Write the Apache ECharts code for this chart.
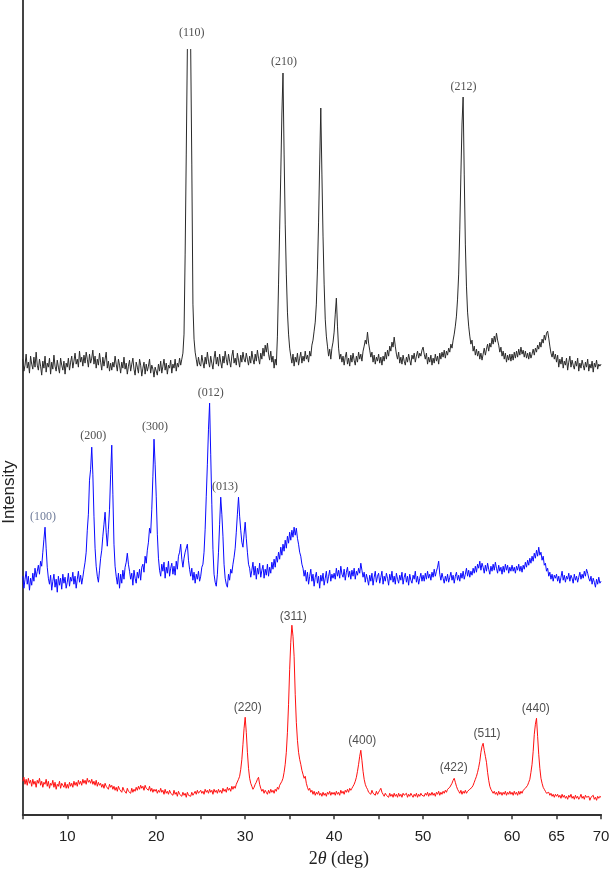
<!DOCTYPE html>
<html>
<head>
<meta charset="utf-8">
<script src="https://cdn.jsdelivr.net/npm/echarts/dist/echarts.min.js"></script>
<style>
  html, body { margin: 0; padding: 0; background: #fff; }
  #xrd { width: 612px; height: 875px; }
</style>
</head>
<body>
<div id="xrd"></div>
<script>
// scan: 2theta from 5 to 70 deg, one reading every 0.125 deg (one row = 5 deg)
var scanStart = 5;
var scanStep = 0.125;

// top pattern (black), stacked offset included; null = peak runs off the plot
var blackCounts = [
  455, 443, 449, 460, 446, 452, 441, 458, 450, 445, 457, 447, 462, 449, 444, 455, 448, 439, 453, 446, 458, 442, 451, 447, 456, 440, 452, 445, 459, 448, 443, 454, 447, 441, 456, 449, 444, 453, 440, 451,
  447, 456, 444, 452, 458, 446, 453, 461, 450, 455, 447, 463, 452, 457, 448, 459, 451, 462, 455, 447, 460, 451, 456, 464, 450, 458, 446, 455, 449, 461, 452, 444, 457, 448, 455, 462, 446, 453, 443, 451,
  444, 452, 447, 458, 450, 443, 455, 449, 441, 452, 446, 457, 445, 451, 440, 448, 454, 443, 450, 456, 445, 439, 452, 447, 441, 455, 449, 438, 446, 452, 440, 450, 443, 448, 455, 441, 449, 445, 437, 447,
  446, 439, 450, 443, 453, 441, 448, 455, 444, 451, 440, 449, 446, 454, 441, 450, 446, 455, 443, 451, 447, 456, 449, 455, 461, 480, 560, 660, 765, null, null, 765, 650, 510, 475, 462, 455, 448, 457, 450,
  448, 459, 452, 446, 457, 450, 462, 453, 447, 458, 451, 445, 456, 463, 450, 457, 448, 460, 452, 446, 458, 451, 463, 455, 449, 460, 453, 447, 458, 464, 451, 456, 449, 461, 454, 447, 459, 452, 462, 455,
  452, 461, 455, 449, 458, 451, 463, 455, 450, 460, 453, 464, 456, 450, 461, 455, 466, 458, 469, 462, 471, 460, 454, 463, 452, 458, 446, 455, 449, 478, 530, 585, 640, 700, 741, 660, 590, 540, 502, 480,
  466, 458, 451, 460, 448, 457, 452, 461, 449, 456, 462, 451, 458, 453, 463, 455, 459, 452, 463, 458, 469, 474, 483, 492, 510, 545, 592, 650, 706, 640, 578, 530, 495, 478, 468, 458, 465, 455, 466, 472,
  482, 500, 516, 488, 466, 455, 460, 452, 458, 449, 457, 462, 450, 456, 448, 459, 452, 461, 454, 449, 458, 452, 462, 455, 460, 453, 463, 468, 474, 470, 482, 471, 464, 457, 462, 452, 459, 450, 457, 453,
  460, 451, 457, 449, 458, 453, 462, 455, 464, 458, 468, 463, 472, 467, 477, 468, 460, 455, 462, 451, 457, 450, 459, 453, 449, 457, 452, 460, 454, 449, 459, 455, 461, 452, 458, 463, 456, 461, 458, 464,
  467, 460, 455, 461, 450, 457, 452, 459, 449, 456, 451, 460, 453, 458, 450, 461, 455, 462, 457, 464, 456, 463, 459, 466, 462, 470, 466, 474, 480, 488, 498, 515, 540, 585, 640, 690, 717, 640, 570, 528,
  502, 488, 478, 470, 474, 463, 468, 459, 465, 458, 463, 455, 461, 454, 460, 466, 459, 465, 470, 463, 471, 467, 476, 470, 478, 472, 481, 474, 469, 462, 467, 458, 463, 455, 461, 452, 459, 454, 460, 453,
  460, 454, 462, 456, 463, 457, 465, 459, 467, 460, 464, 457, 463, 456, 461, 455, 462, 456, 460, 465, 459, 466, 462, 469, 465, 472, 467, 475, 471, 479, 474, 481, 483, 476, 468, 461, 457, 463, 455, 460,
  452, 459, 447, 455, 450, 457, 446, 453, 449, 456, 444, 452, 458, 447, 454, 449, 445, 453, 448, 456, 443, 451, 446, 454, 449, 444, 452, 447, 455, 443, 450, 446, 453, 442, 451, 447, 454, 445, 450, 448,
  450
];

// middle pattern (blue)
var blueCounts = [
  238, 226, 235, 243, 230, 238, 224, 236, 229, 241, 233, 246, 237, 243, 249, 240, 253, 248, 262, 275, 287, 266, 247, 236, 230, 239, 224, 233, 240, 227, 235, 222, 238, 229, 236, 225, 240, 231, 237, 226,
  232, 241, 228, 237, 233, 242, 230, 238, 226, 235, 243, 232, 239, 230, 237, 245, 252, 262, 284, 300, 334, 345, 367, 340, 298, 266, 248, 238, 232, 244, 256, 264, 278, 290, 302, 282, 268, 285, 305, 340,
  369, 320, 270, 248, 238, 230, 241, 226, 240, 231, 244, 235, 247, 252, 261, 250, 243, 235, 241, 229, 244, 236, 231, 242, 236, 245, 234, 247, 250, 242, 258, 251, 264, 272, 286, 281, 305, 338, 375, 350,
  318, 280, 256, 244, 238, 250, 243, 252, 236, 247, 241, 253, 238, 246, 251, 240, 248, 239, 253, 245, 258, 262, 270, 255, 247, 256, 262, 266, 270, 254, 245, 238, 246, 234, 242, 231, 240, 235, 243, 233,
  238, 247, 250, 262, 285, 318, 350, 385, 411, 360, 310, 265, 240, 232, 228, 240, 262, 290, 317, 300, 278, 250, 236, 230, 227, 240, 234, 245, 241, 250, 257, 266, 282, 300, 317, 298, 284, 272, 267, 280,
  292, 276, 262, 250, 246, 237, 244, 252, 239, 248, 235, 246, 240, 251, 237, 244, 249, 236, 245, 239, 250, 238, 247, 241, 252, 245, 255, 247, 258, 252, 262, 255, 267, 259, 270, 263, 274, 266, 278, 271,
  282, 274, 284, 277, 287, 279, 286, 276, 270, 262, 258, 250, 246, 238, 244, 233, 242, 230, 238, 245, 233, 240, 228, 237, 242, 231, 238, 226, 239, 233, 241, 229, 236, 243, 231, 238, 244, 233, 240, 236,
  241, 235, 246, 238, 244, 236, 248, 240, 237, 245, 234, 242, 247, 237, 243, 235, 244, 238, 246, 235, 243, 239, 246, 241, 251, 244, 237, 242, 232, 240, 235, 229, 239, 233, 241, 229, 237, 243, 232, 238,
  241, 231, 237, 243, 230, 238, 233, 241, 236, 229, 240, 234, 243, 232, 238, 230, 241, 235, 231, 239, 234, 242, 230, 237, 241, 232, 238, 229, 240, 234, 231, 239, 235, 243, 232, 238, 230, 236, 241, 233,
  239, 233, 241, 235, 243, 236, 240, 234, 242, 237, 245, 238, 243, 247, 253, 240, 234, 241, 236, 231, 238, 233, 240, 232, 237, 242, 234, 239, 231, 238, 242, 234, 239, 233, 241, 236, 243, 235, 240, 246,
  238, 244, 237, 243, 239, 246, 241, 248, 242, 250, 246, 253, 244, 251, 247, 241, 249, 243, 251, 245, 240, 248, 243, 250, 244, 252, 246, 241, 249, 243, 247, 240, 248, 242, 250, 244, 249, 241, 247, 243,
  249, 243, 247, 241, 248, 244, 250, 243, 248, 242, 249, 245, 252, 247, 254, 249, 256, 251, 258, 253, 261, 256, 264, 258, 267, 259, 262, 254, 258, 249, 251, 243, 246, 238, 242, 235, 240, 233, 239, 236,
  240, 233, 238, 231, 237, 243, 234, 239, 232, 238, 235, 241, 233, 239, 236, 231, 240, 234, 238, 232, 237, 242, 235, 240, 236, 243, 238, 245, 241, 236, 233, 238, 230, 236, 232, 227, 235, 230, 237, 231,
  233
];

// bottom pattern (red)
var redCounts = [
  33, 37, 30, 35, 29, 36, 31, 34, 28, 35, 30, 33, 27, 34, 31, 36, 29, 33, 27, 32, 30, 35, 28, 33, 26, 31, 29, 34, 27, 32, 25, 30, 28, 33, 26, 31, 29, 27, 32, 26,
  30, 26, 32, 28, 31, 27, 33, 29, 32, 28, 34, 30, 33, 29, 35, 31, 34, 30, 36, 32, 34, 31, 35, 30, 33, 29, 34, 28, 32, 29, 31, 27, 30, 26, 31, 28, 29, 25, 30, 27,
  29, 25, 28, 24, 27, 23, 28, 25, 26, 22, 27, 24, 25, 21, 26, 23, 24, 21, 26, 22, 25, 23, 27, 24, 28, 25, 29, 26, 28, 24, 29, 26, 27, 24, 28, 23, 26, 22, 25, 23,
  25, 21, 24, 22, 26, 22, 24, 20, 25, 21, 23, 20, 24, 21, 22, 19, 24, 20, 22, 18, 23, 20, 21, 18, 22, 19, 21, 17, 22, 19, 20, 18, 22, 19, 21, 23, 20, 24, 21, 22,
  24, 21, 23, 20, 25, 22, 24, 21, 25, 22, 24, 20, 25, 22, 24, 21, 25, 22, 24, 21, 26, 23, 25, 22, 27, 24, 26, 23, 28, 25, 28, 26, 30, 31, 35, 38, 45, 55, 70, 86,
  97, 82, 62, 46, 36, 31, 28, 25, 27, 30, 32, 35, 37, 30, 26, 23, 25, 21, 24, 22, 20, 24, 21, 25, 22, 24, 21, 25, 23, 27, 25, 29, 30, 33, 36, 42, 50, 62, 82, 110,
  145, 172, 189, 178, 158, 120, 92, 74, 62, 55, 50, 44, 40, 36, 38, 31, 27, 24, 26, 22, 24, 20, 23, 19, 22, 20, 23, 19, 21, 18, 22, 19, 21, 18, 22, 20, 23, 19, 22, 20,
  22, 19, 23, 20, 22, 19, 24, 21, 23, 20, 24, 22, 25, 22, 26, 24, 26, 28, 30, 33, 37, 43, 50, 58, 64, 54, 43, 35, 30, 27, 25, 22, 23, 20, 24, 21, 22, 19, 23, 20,
  22, 24, 26, 22, 20, 18, 21, 19, 20, 17, 21, 18, 20, 17, 21, 18, 20, 17, 21, 18, 20, 17, 21, 19, 18, 21, 17, 20, 18, 21, 19, 17, 20, 18, 21, 17, 20, 18, 21, 19,
  20, 18, 21, 19, 22, 18, 21, 19, 22, 19, 21, 18, 22, 20, 23, 19, 22, 20, 23, 21, 24, 22, 25, 24, 27, 28, 31, 34, 36, 32, 28, 25, 23, 21, 24, 20, 23, 21, 24, 21,
  23, 22, 25, 24, 27, 29, 32, 35, 38, 42, 47, 53, 62, 68, 71, 64, 58, 52, 42, 34, 28, 25, 24, 21, 23, 20, 22, 19, 23, 20, 22, 19, 22, 20, 23, 19, 22, 20, 23, 20,
  22, 19, 23, 20, 22, 19, 23, 20, 23, 21, 24, 23, 26, 27, 29, 32, 35, 42, 50, 63, 80, 90, 96, 78, 60, 46, 36, 31, 27, 25, 23, 21, 20, 22, 19, 21, 18, 20, 17, 20,
  18, 20, 17, 19, 16, 20, 17, 19, 16, 18, 15, 19, 17, 20, 16, 18, 15, 19, 16, 18, 15, 17, 20, 16, 18, 15, 19, 17, 16, 18, 14, 17, 16, 19, 15, 17, 14, 18, 16, 18,
  17
];

// peak indices written over each pattern (anchor = 2theta, height)
var blackPeakNames = ['(110)', '(210)', '(212)'];
var blackPeakTheta = [24.0, 34.35, 54.55];
var blackPeakLevel = [781, 752, 727];

var bluePeakNames = ['(100)', '(200)', '(300)', '(012)', '(013)'];
var bluePeakTheta = [7.27, 12.93, 19.86, 26.13, 27.73];
var bluePeakLevel = [297, 378, 387, 421, 327];

var redPeakNames = ['(220)', '(311)', '(400)', '(422)', '(511)', '(440)'];
var redPeakTheta = [30.29, 35.41, 43.17, 53.44, 57.19, 62.67];
var redPeakLevel = [107, 198, 74, 47, 81, 106];

var xTickLabels = [10, 20, 30, 40, 50, 60, 65, 70];

function toPairs(counts) {
    var out = [];
    for (var i = 0; i < counts.length; i++) {
        out.push([scanStart + i * scanStep, counts[i] === null ? '-' : counts[i]]);
    }
    return out;
}

function traceSeries(counts, color) {
    return {
        type: 'line',
        data: toPairs(counts),
        showSymbol: false,
        symbol: 'none',
        connectNulls: false,
        lineStyle: { color: color, width: 1 },
        silent: true
    };
}

function labelSeries(names, theta, level, font, color) {
    var data = [];
    for (var i = 0; i < names.length; i++) {
        data.push({ name: names[i], value: [theta[i], level[i]] });
    }
    return {
        type: 'scatter',
        data: data,
        symbolSize: 1,
        clip: false,
        silent: true,
        itemStyle: { color: 'rgba(0,0,0,0)' },
        label: {
            show: true,
            position: 'inside',
            formatter: '{b}',
            fontFamily: font,
            fontSize: 12,
            color: color
        }
    };
}

var serif = '"Liberation Serif", "DejaVu Serif", serif';
var sans = '"Liberation Sans", Arial, sans-serif';

var blueLabels = labelSeries(bluePeakNames, bluePeakTheta, bluePeakLevel, serif, '#222');
// the (100) index is printed in a bluish grey
blueLabels.data[0].label = { color: '#4a5a80' };

var myChart = echarts.init(document.getElementById('xrd'));
myChart.setOption({
    animation: false,
    backgroundColor: '#fff',
    grid: { left: 22.8, right: 11, top: 0, bottom: 60.7, containLabel: false, outerBoundsMode: 'none' },
    xAxis: {
        type: 'value',
        min: 5,
        max: 70,
        interval: 5,
        name: '2{i|θ} (deg)',
        nameLocation: 'middle',
        nameGap: 36,
        nameTextStyle: {
            fontFamily: serif,
            fontSize: 18,
            color: '#222',
            padding: [0, 0, 0, 54],
            rich: { i: { fontFamily: serif, fontSize: 18, fontStyle: 'italic', color: '#222' } }
        },
        axisLine: { lineStyle: { color: '#333', width: 2 } },
        axisTick: { length: 5, lineStyle: { color: '#333', width: 1.5 } },
        axisLabel: {
            margin: 15,
            fontFamily: sans,
            fontSize: 15,
            color: '#222',
            showMinLabel: true,
            showMaxLabel: true,
            formatter: function (v) {
                return xTickLabels.indexOf(v) >= 0 ? String(v) : '';
            }
        },
        splitLine: { show: false }
    },
    yAxis: {
        type: 'value',
        min: 0,
        max: 814,
        name: 'Intensity',
        nameLocation: 'middle',
        nameGap: 5,
        nameTextStyle: {
            fontFamily: sans,
            fontSize: 17,
            color: '#222',
            padding: [0, 170, 0, 0]
        },
        axisLine: { show: true, lineStyle: { color: '#444', width: 2 } },
        axisTick: { show: false },
        axisLabel: { show: false },
        splitLine: { show: false }
    },
    series: [
        traceSeries(redCounts, '#ff1010'),
        traceSeries(blueCounts, '#0a0aff'),
        traceSeries(blackCounts, '#2a2a2a'),
        labelSeries(blackPeakNames, blackPeakTheta, blackPeakLevel, serif, '#222'),
        blueLabels,
        labelSeries(redPeakNames, redPeakTheta, redPeakLevel, sans, '#222')
    ]
});
</script>
</body>
</html>
